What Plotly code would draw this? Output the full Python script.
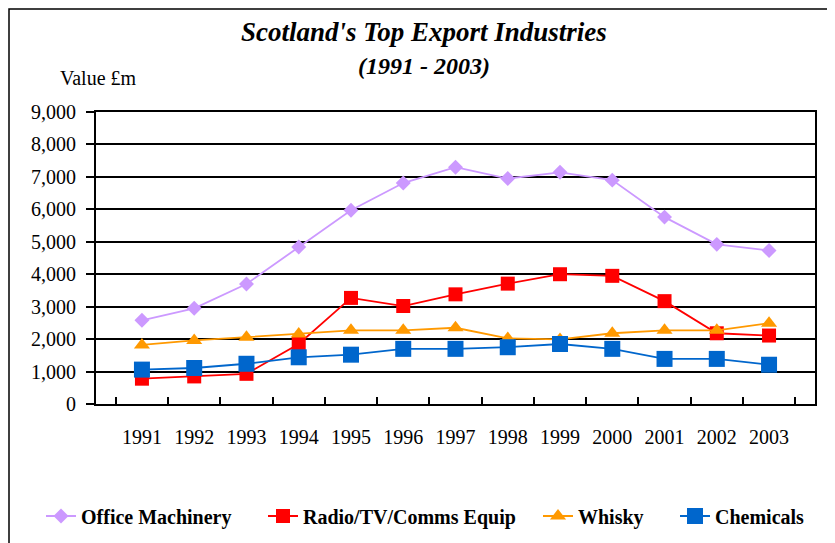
import plotly.graph_objects as go

years = ["1991", "1992", "1993", "1994", "1995", "1996", "1997",
         "1998", "1999", "2000", "2001", "2002", "2003"]

office_machinery = [2580, 2950, 3700, 4840, 5970, 6810, 7300, 6950, 7140, 6900, 5760, 4920, 4730]
radio_tv_comms = [780, 850, 930, 1850, 3270, 3020, 3380, 3710, 4000, 3950, 3170, 2180, 2110]
whisky = [1820, 1960, 2060, 2160, 2270, 2270, 2350, 2020, 1990, 2180, 2270, 2270, 2490]
chemicals = [1060, 1110, 1240, 1440, 1520, 1700, 1700, 1750, 1850, 1700, 1390, 1390, 1210]

y_ticks = [0, 1000, 2000, 3000, 4000, 5000, 6000, 7000, 8000, 9000]

FONT = "Liberation Serif"
# the page body adds an 8px offset, so the figure is drawn 8px smaller
W, H = 827, 535
L, T = 88, 104
PW, PH = 719, 292  # plot area size in px

series = [
    ("Office Machinery", office_machinery, "#CC99FF", "diamond", 11.5, 83),
    ("Radio/TV/Comms Equip", radio_tv_comms, "#FF0000", "square", 14, 305),
    ("Whisky", whisky, "#FF9900", "triangle-up", 14, 580),
    ("Chemicals", chemicals, "#0066CC", "square", 16, 717),
]

fig = go.Figure()
legends = {}
for i, (name, vals, color, symbol, size, text_x) in enumerate(series):
    key = "legend" if i == 0 else f"legend{i + 1}"
    fig.add_trace(go.Scatter(
        x=years, y=vals, name=name, mode="lines+markers", legend=key,
        line=dict(color=color, width=1.8),
        marker=dict(symbol=symbol, size=size, color=color, line=dict(width=0)),
    ))
    legends[key] = dict(
        orientation="h", xref="container", yref="container",
        x=(text_x - 42 - 8) / W, xanchor="left", y=1 - (516 - 8) / H, yanchor="middle",
        font=dict(family=FONT, size=20, color="black", weight="bold"),
        bgcolor="rgba(0,0,0,0)",
    )


def px(x):
    return (x - 8 - L) / PW


def py(y):
    return 1 - (y - 8 - T) / PH


fig.update_layout(
    width=W, height=H,
    margin=dict(l=L, r=W - L - PW, t=T, b=H - T - PH, autoexpand=False),
    paper_bgcolor="white", plot_bgcolor="white",
    font=dict(family=FONT, size=20, color="black"),
    showlegend=True,
    annotations=[
        dict(text="<b><i>Scotland's Top Export Industries</i></b>", xref="paper", yref="paper",
             x=px(423.5), y=py(32), xanchor="center", yanchor="middle",
             showarrow=False, font=dict(family=FONT, size=27)),
        dict(text="<b><i>(1991 - 2003)</i></b>", xref="paper", yref="paper",
             x=px(423.5), y=py(66), xanchor="center", yanchor="middle",
             showarrow=False, font=dict(family=FONT, size=24)),
        dict(text="Value £m", xref="paper", yref="paper",
             x=px(58), y=py(78), xanchor="left", yanchor="middle",
             showarrow=False, font=dict(family=FONT, size=20)),
    ],
    shapes=[
        dict(type="rect", xref="paper", yref="paper",
             x0=px(9), x1=px(832), y0=py(560), y1=py(9),
             line=dict(color="black", width=1.5), fillcolor="rgba(0,0,0,0)", layer="below"),
    ],
    **legends,
)

fig.update_xaxes(
    type="category", showgrid=False, showline=True, linecolor="black", linewidth=2,
    mirror=True, ticks="inside", ticklen=7, tickcolor="black", tickwidth=1.5,
    tickson="boundaries", ticklabelstandoff=14, automargin=False,
    tickfont=dict(family=FONT, size=20),
)
fig.update_yaxes(
    range=[0, 9000], tickvals=y_ticks, tickformat=",", showgrid=True,
    gridcolor="black", gridwidth=1.5, showline=True, linecolor="black", linewidth=2,
    mirror=True, ticks="outside", ticklen=8, tickcolor="black", tickwidth=1.5,
    zeroline=False, ticklabelstandoff=6, automargin=False,
    tickfont=dict(family=FONT, size=20),
)

fig.write_html("out.html")
